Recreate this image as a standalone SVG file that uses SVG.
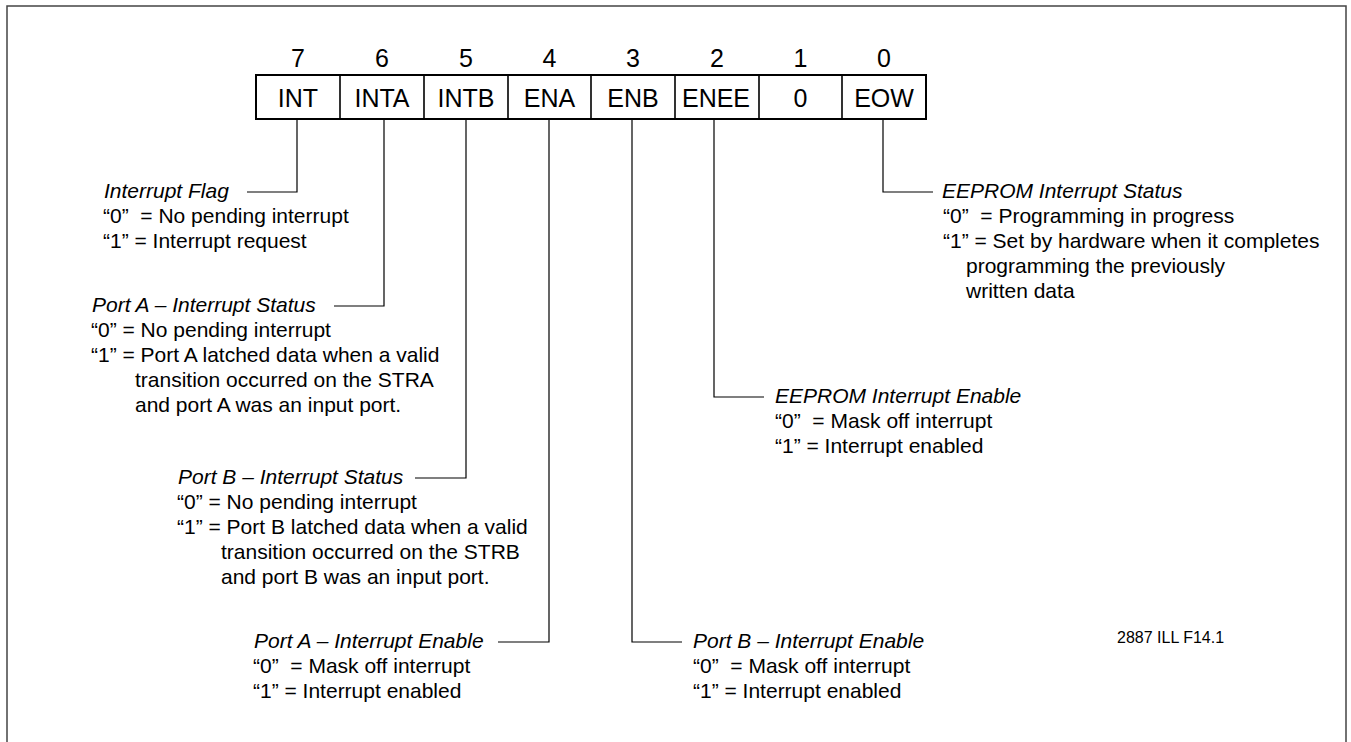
<svg xmlns="http://www.w3.org/2000/svg" width="1351" height="742" viewBox="0 0 1351 742">
<style>
text{font-family:"Liberation Sans",Arial,Helvetica,sans-serif;fill:#000}
.bit{font-size:25px;text-anchor:middle}
.cell{font-size:25px;text-anchor:middle}
.d{font-size:21px}
.t{font-style:italic}
.c{fill:none;stroke:#000;stroke-width:1.2}
.box{fill:#fff;stroke:#000;stroke-width:2}
.div{stroke:#000;stroke-width:1.6}
</style>
<rect width="1351" height="742" fill="#fff"/>
<path d="M7 742V6H1346V742" fill="none" stroke="#444" stroke-width="1.5"/>
<g id="register">
<g class="bit-numbers">
<text class="bit" x="298" y="67">7</text>
<text class="bit" x="382" y="67">6</text>
<text class="bit" x="466" y="67">5</text>
<text class="bit" x="549.5" y="67">4</text>
<text class="bit" x="633" y="67">3</text>
<text class="bit" x="717" y="67">2</text>
<text class="bit" x="800.5" y="67">1</text>
<text class="bit" x="884" y="67">0</text>
</g>
<rect class="box" x="256" y="75" width="670" height="44"/>
<path class="div" d="M340 75V119M424 75V119M508 75V119M591 75V119M675 75V119M759 75V119M842 75V119"/>
<text class="cell" x="298" y="107">INT</text>
<text class="cell" x="382" y="107">INTA</text>
<text class="cell" x="466" y="107">INTB</text>
<text class="cell" x="549.5" y="107">ENA</text>
<text class="cell" x="633" y="107">ENB</text>
<text class="cell" x="716" y="107">ENEE</text>
<text class="cell" x="800.5" y="107">0</text>
<text class="cell" x="884" y="107">EOW</text>
</g>
<g id="connectors">
<path class="c" d="M297 119V192H247"/>
<path class="c" d="M384 119V306H334"/>
<path class="c" d="M466 119V478H415"/>
<path class="c" d="M549 119V642H498"/>
<path class="c" d="M632 119V642H682"/>
<path class="c" d="M714 119V397H764"/>
<path class="c" d="M883 119V192H933"/>
</g>
<g id="int-flag" class="d">
<text class="d t" x="104" y="198">Interrupt Flag</text>
<text class="d" x="103" y="223">“0”&#160; = No pending interrupt</text>
<text class="d" x="103" y="248">“1” = Interrupt request</text>
</g>
<g id="porta-status">
<text class="d t" x="92" y="312">Port A – Interrupt Status</text>
<text class="d" x="91" y="337">“0” = No pending interrupt</text>
<text class="d" x="91" y="362">“1” = Port A latched data when a valid</text>
<text class="d" x="135" y="387">transition occurred on the STRA</text>
<text class="d" x="135" y="412">and port A was an input port.</text>
</g>
<g id="portb-status">
<text class="d t" x="178" y="484">Port B – Interrupt Status</text>
<text class="d" x="177" y="509">“0” = No pending interrupt</text>
<text class="d" x="177" y="534">“1” = Port B latched data when a valid</text>
<text class="d" x="221" y="559">transition occurred on the STRB</text>
<text class="d" x="221" y="584">and port B was an input port.</text>
</g>
<g id="porta-enable">
<text class="d t" x="254" y="648">Port A – Interrupt Enable</text>
<text class="d" x="253" y="673">“0”&#160; = Mask off interrupt</text>
<text class="d" x="253" y="698">“1” = Interrupt enabled</text>
</g>
<g id="portb-enable">
<text class="d t" x="693" y="648">Port B – Interrupt Enable</text>
<text class="d" x="693" y="673">“0”&#160; = Mask off interrupt</text>
<text class="d" x="693" y="698">“1” = Interrupt enabled</text>
</g>
<g id="eeprom-enable">
<text class="d t" x="775" y="403">EEPROM Interrupt Enable</text>
<text class="d" x="775" y="428">“0”&#160; = Mask off interrupt</text>
<text class="d" x="775" y="453">“1” = Interrupt enabled</text>
</g>
<g id="eeprom-status">
<text class="d t" x="942" y="198">EEPROM Interrupt Status</text>
<text class="d" x="943" y="223">“0”&#160; = Programming in progress</text>
<text class="d" x="943" y="248">“1” = Set by hardware when it completes</text>
<text class="d" x="966" y="273">programming the previously</text>
<text class="d" x="966" y="298">written data</text>
</g>
<g id="figure-id">
<text x="1117" y="643" style="font-size:16px">2887 ILL F14.1</text>
</g>
</svg>
